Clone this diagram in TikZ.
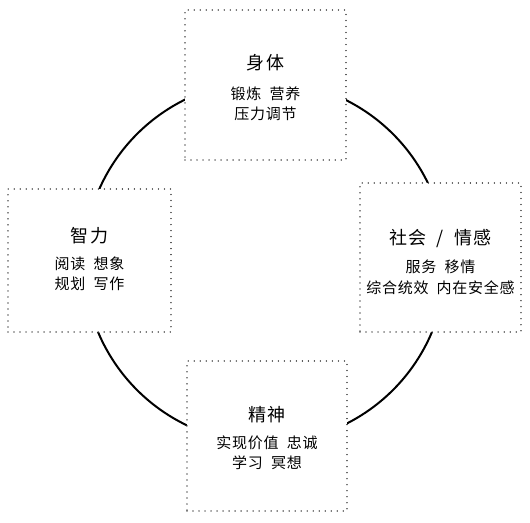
\documentclass[tikz,border=0pt]{standalone}
\usepackage{fontspec}
\setmainfont{Noto Sans CJK SC}
\newfontfamily\areafont[LetterSpace=5]{Noto Sans CJK SC}
\newfontfamily\headfont[LetterSpace=6]{Noto Sans CJK SC}
\usetikzlibrary{positioning}

\tikzset{
  area/.style={draw=black!70, line width=1.4pt, line cap=round,
    dash pattern=on 0.01pt off 6pt, fill=white, inner sep=0pt},
  areatext/.style={align=center, inner sep=0pt,
    font=\areafont\fontsize{15}{20}\selectfont},
}
\newcommand{\areatitle}[1]{{\headfont\fontsize{18}{20}\selectfont #1}}

\begin{document}
\begin{tikzpicture}[x=1pt,y=-1pt]
 \useasboundingbox (0,0) rectangle (530,522);
 % ring behind the four areas
 \draw[line width=2pt] (265,262) circle (181pt);
 \node[area, minimum width=161pt, minimum height=150pt] (body) at (265.5,85) {};
 \node[area, minimum width=163pt, minimum height=143pt] (mind) at (89.5,260.5) {};
 \node[area, minimum width=161pt, minimum height=149pt] (social) at (440.5,257.5) {};
 \node[area, minimum width=160pt, minimum height=150pt] (spirit) at (267,436) {};
 % labels
 \node[areatext] (bodytext) at ([yshift=-2.5pt]body.center)
   {\areatitle{身体}\\[10pt] 锻炼\ \ 营养\\ 压力调节};
 \node[areatext] (mindtext) at ([yshift=1pt]mind.center)
   {\areatitle{智力}\\[7pt] 阅读\ \ 想象\\ 规划\ \ 写作};
 \node[areatext] (socialtext) at ([yshift=-5pt]social.center)
   {\areatitle{社会\ \ /\ \ 情感}\\[8pt] 服务\ \ 移情\\[1pt] 综合统效\ \ 内在安全感};
 \node[areatext] (spirittext) at ([yshift=-2.5pt]spirit.center)
   {\areatitle{精神}\\[7pt] 实现价值\ \ 忠诚\\ 学习\ \ 冥想};
\end{tikzpicture}
\end{document}
